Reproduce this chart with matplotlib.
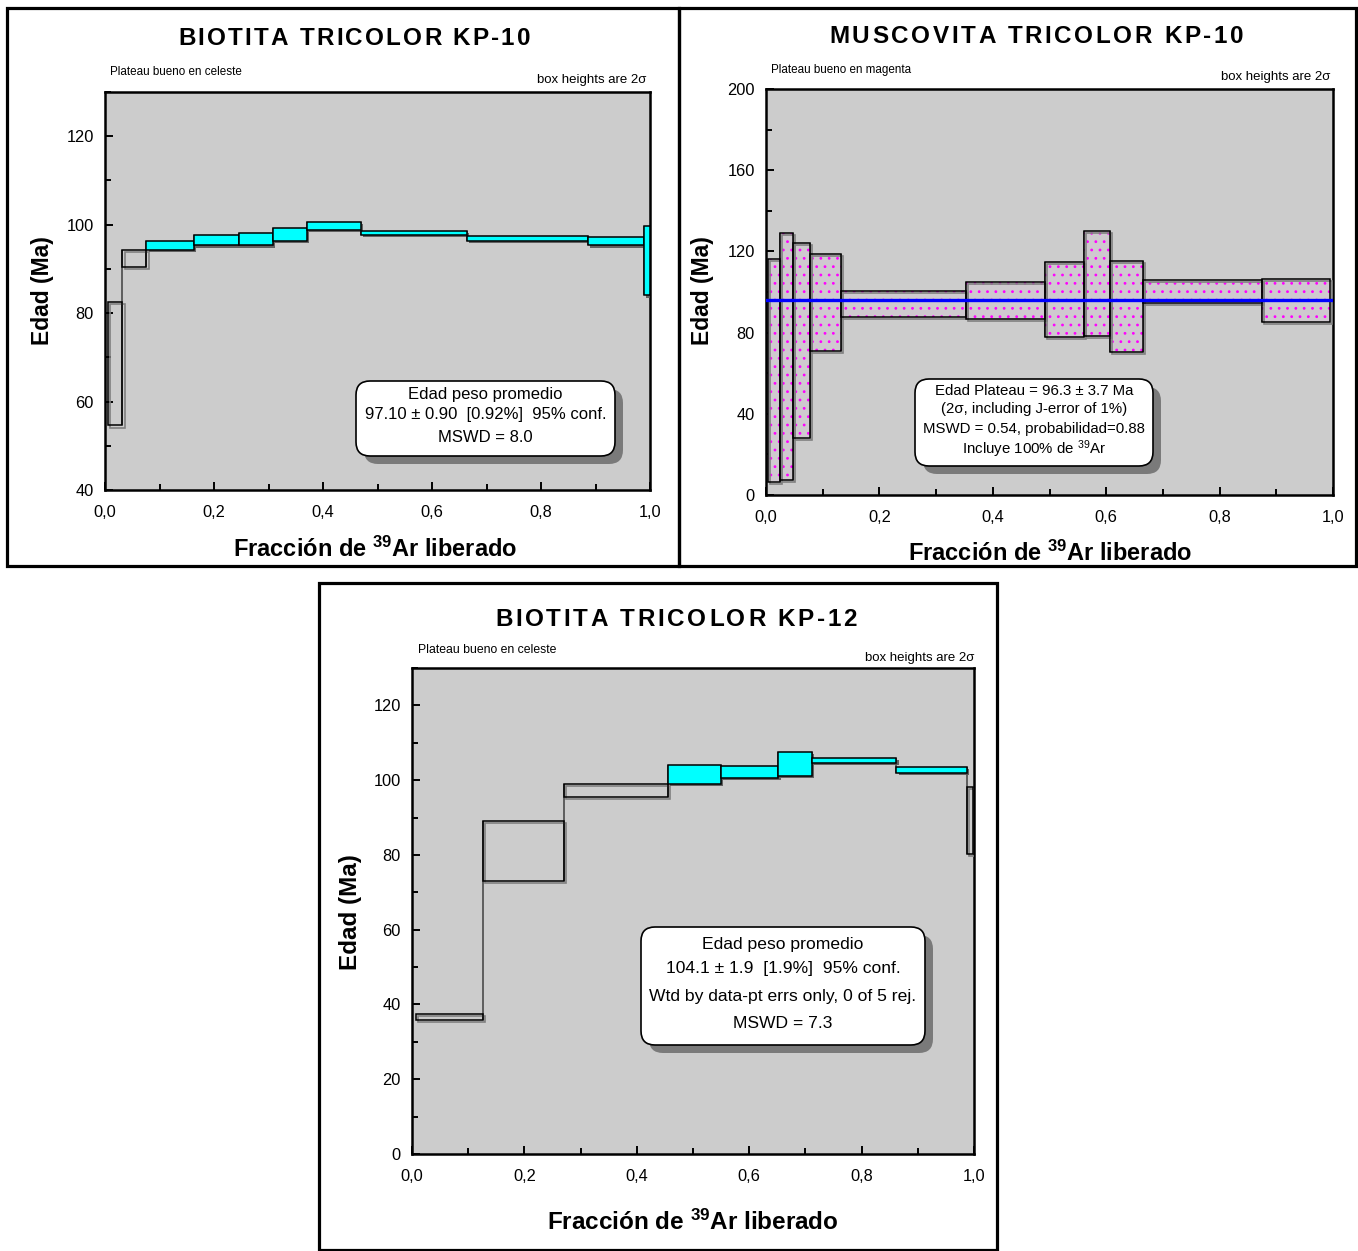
import matplotlib
matplotlib.use('Agg')
import matplotlib.pyplot as plt
from matplotlib.patches import Rectangle, FancyBboxPatch
from matplotlib.transforms import Affine2D, Bbox, TransformedBbox
import matplotlib.patheffects as pe
from matplotlib.ticker import FixedLocator, MultipleLocator

# ---------------- data ----------------
# Panel 1: BIOTITA TRICOLOR KP-10
p1_edges = [0.005, 0.032, 0.076, 0.163, 0.246, 0.309, 0.370, 0.469, 0.664, 0.887, 0.989, 1.0]
p1_age = [68.55, 92.35, 95.25, 96.45, 96.7, 97.85, 99.8, 98.05, 96.9, 96.2, 91.9]
p1_err = [13.95, 1.95, 0.95, 1.15, 1.4, 1.45, 0.9, 0.45, 0.5, 0.9, 7.9]
p1_plateau = [0, 0, 1, 1, 1, 1, 1, 1, 1, 1, 1]
p1_yticks = [40, 60, 80, 100, 120]

# Panel 2: MUSCOVITA TRICOLOR KP-10
p2_edges = [0.004, 0.025, 0.048, 0.077, 0.132, 0.352, 0.492, 0.560, 0.607, 0.665, 0.874, 0.995]
p2_age = [61.25, 68.3, 76.1, 94.75, 94.05, 96.0, 96.3, 104.2, 93.0, 100.35, 95.85]
p2_err = [55.05, 60.9, 48.2, 23.95, 6.55, 9.1, 18.6, 26.0, 22.4, 5.75, 10.75]
p2_plateau = [1, 1, 1, 1, 1, 1, 1, 1, 1, 1, 1]
p2_plateau_age = 96.3
p2_yticks = [0, 40, 80, 120, 160, 200]

# Panel 3: BIOTITA TRICOLOR KP-12
p3_edges = [0.007, 0.126, 0.271, 0.455, 0.549, 0.652, 0.712, 0.862, 0.988, 0.999]
p3_age = [36.7, 81.1, 97.2, 101.55, 102.15, 104.35, 105.3, 102.7, 89.25]
p3_err = [0.8, 8.0, 1.7, 2.45, 1.65, 3.25, 0.6, 0.8, 9.05]
p3_plateau = [0, 0, 0, 1, 1, 1, 1, 1, 0]
p3_yticks = [0, 20, 40, 60, 80, 100, 120]

xticks = [0.0, 0.2, 0.4, 0.6, 0.8, 1.0]
xticklabels = ['0,0', '0,2', '0,4', '0,6', '0,8', '1,0']

titles = ['BIOTITA TRICOLOR KP-10', 'MUSCOVITA TRICOLOR KP-10', 'BIOTITA TRICOLOR KP-12']
box1_lines = ['Edad peso promedio', '97.10 ± 0.90  [0.92%]  95% conf.', 'MSWD = 8.0']
box2_lines = ['Edad Plateau = 96.3 ± 3.7 Ma', '(2σ, including J-error of 1%)',
              'MSWD = 0.54, probabilidad=0.88', r'Incluye 100% de $^{\mathrm{39}}$Ar']
box3_lines = ['Edad peso promedio', '104.1 ± 1.9  [1.9%]  95% conf.',
              'Wtd by data-pt errs only, 0 of 5 rej.', 'MSWD = 7.3']

# ---------------- style ----------------
W, H = 1358, 1251
plt.rcParams['font.family'] = ['Liberation Sans', 'DejaVu Sans']
plt.rcParams['mathtext.fontset'] = 'custom'
plt.rcParams['mathtext.rm'] = 'Liberation Sans'
plt.rcParams['mathtext.bf'] = 'Liberation Sans:bold'
plt.rcParams['mathtext.it'] = 'Liberation Sans:italic'
plt.rcParams['hatch.linewidth'] = 0.8

fig = plt.figure(figsize=(W / 100, H / 100), dpi=100)
PX = Affine2D().scale(1 / W, -1 / H).translate(0, 1) + fig.transFigure

BG = '#cccccc'


def make_axes(l, t, r, b, ylim, yticks, yminor):
    ax = fig.add_axes([l / W, 1 - b / H, (r - l) / W, (b - t) / H])
    ax.set_facecolor(BG)
    ax.set_xlim(0, 1)
    ax.set_ylim(*ylim)
    ax.xaxis.set_major_locator(FixedLocator(xticks))
    ax.set_xticklabels(xticklabels)
    ax.xaxis.set_minor_locator(MultipleLocator(0.1))
    ax.yaxis.set_major_locator(FixedLocator(yticks))
    ax.yaxis.set_minor_locator(MultipleLocator(yminor))
    ax.tick_params(which='both', direction='in', width=1.4, labelsize=11.8)
    ax.tick_params(which='major', length=6)
    ax.tick_params(which='minor', length=4)
    ax.tick_params(axis='x', pad=11)
    ax.tick_params(axis='y', pad=8)
    for s in ax.spines.values():
        s.set_linewidth(1.8)
    return ax


def draw_spectrum(ax, edges, age, err, plateau, hatched=False):
    n = len(age)
    for i in range(n):
        x0, x1 = edges[i], edges[i + 1]
        lo, hi = age[i] - err[i], age[i] + err[i]
        if i < n - 1:
            lo2, hi2 = age[i + 1] - err[i + 1], age[i + 1] + err[i + 1]
            ax.plot([x1, x1], [min(lo, lo2), max(hi, hi2)], color='#555555',
                    lw=1.3, zorder=2, solid_capstyle='butt')
        if hatched and plateau[i]:
            ax.add_patch(Rectangle((x0, lo), x1 - x0, hi - lo, fc='#cfc9cf', ec='#ff00ff',
                                   lw=0, hatch='..', zorder=3))
            ax.add_patch(Rectangle((x0, lo), x1 - x0, hi - lo, fc='none', ec='black', lw=1.1,
                                   zorder=3.5,
                                   path_effects=[pe.Stroke(offset=(1.5, -1.5), foreground='#808080',
                                                           linewidth=1.2), pe.Normal()]))
        elif plateau[i]:
            ax.add_patch(Rectangle((x0, lo), x1 - x0, hi - lo, fc='#00ffff', ec='black', lw=1.1,
                                   zorder=3,
                                   path_effects=[pe.SimplePatchShadow(offset=(1.5, -1.5),
                                                                      shadow_rgbFace='#555555',
                                                                      alpha=0.9), pe.Normal()]))
        else:
            ax.add_patch(Rectangle((x0, lo), x1 - x0, hi - lo, fc='none', ec='black', lw=1.1,
                                   zorder=3,
                                   path_effects=[pe.Stroke(offset=(1.5, -1.5), foreground='#808080',
                                                           linewidth=1.2), pe.Normal()]))


def spaced_title(cx, base_y, s, size, target_w):
    r = fig.canvas.get_renderer()
    ws = []
    for ch in s:
        if ch == ' ':
            ws.append(0.278 * size * 100 / 72)
        else:
            t = fig.text(0, 0, ch, fontsize=size, fontweight='bold')
            ws.append(t.get_window_extent(renderer=r).width)
            t.remove()
    extra = (target_w - sum(ws)) / (len(s) - 1)
    x = cx - target_w / 2
    for ch, w in zip(s, ws):
        if ch != ' ':
            fig.text(x, base_y, ch, transform=PX, ha='left', va='baseline',
                     fontsize=size, fontweight='bold')
        x += w + extra


def text_box(x0, y0, x1, y1, lines, ys, size):
    w, h = x1 - x0, y1 - y0
    fig.add_artist(FancyBboxPatch((x0 + 8, y0 + 8), w, h, boxstyle='round,pad=0,rounding_size=14',
                                  transform=PX, fc='#7a7a7a', ec='none', zorder=5))
    fig.add_artist(FancyBboxPatch((x0, y0), w, h, boxstyle='round,pad=0,rounding_size=14',
                                  transform=PX, fc='white', ec='black', lw=1.2, zorder=6))
    cx = (x0 + x1) / 2
    for line, y in zip(lines, ys):
        fig.text(cx, y, line, transform=PX, ha='center', va='center', fontsize=size, zorder=7)


xlabel = r'Fracción de $^{\mathbf{39}}$Ar liberado'

# ---------------- panel frames ----------------
for (x, y, w, h) in [(7, 8, 672, 558), (679, 8, 677, 558), (319, 583, 678, 667)]:
    fig.add_artist(Rectangle((x, y), w, h, transform=PX, fc='none', ec='black', lw=2.3, zorder=10))

# ---------------- panel 1 ----------------
ax1 = make_axes(105, 92, 650, 490, (40, 130), p1_yticks, 10)
draw_spectrum(ax1, p1_edges, p1_age, p1_err, p1_plateau)
spaced_title(354, 45, titles[0], 17.5, 352)
fig.text(110, 72, 'Plateau bueno en celeste', transform=PX, ha='left', va='center', fontsize=8.4)
fig.text(646, 80, 'box heights are 2σ', transform=PX, ha='right', va='center', fontsize=9.5)
fig.text(42, 291, 'Edad (Ma)', transform=PX, ha='center', va='center', rotation=90,
         fontsize=16.5, fontweight='bold')
fig.text(375, 549, xlabel, transform=PX, ha='center', va='center', fontsize=17, fontweight='bold')
text_box(356, 381, 615, 456, box1_lines, [395, 414, 438], 12)

# ---------------- panel 2 ----------------
ax2 = make_axes(766, 89, 1333, 495, (0, 200), p2_yticks, 20)
draw_spectrum(ax2, p2_edges, p2_age, p2_err, p2_plateau, hatched=True)
ax2.axhline(p2_plateau_age, color='#0000ff', lw=2.4, zorder=4)
spaced_title(1036, 43, titles[1], 17.5, 414)
fig.text(771, 70, 'Plateau bueno en magenta', transform=PX, ha='left', va='center', fontsize=8.4)
fig.text(1330, 77, 'box heights are 2σ', transform=PX, ha='right', va='center', fontsize=9.5)
fig.text(702, 291, 'Edad (Ma)', transform=PX, ha='center', va='center', rotation=90,
         fontsize=16.5, fontweight='bold')
t2 = fig.text(1050, 553, xlabel, transform=PX, ha='center', va='center', fontsize=17,
              fontweight='bold')
t2.set_clip_box(TransformedBbox(Bbox.from_extents(679 / W, 1 - 566 / H, 1356 / W, 1 - 8 / H),
                                fig.transFigure))
t2.set_clip_on(True)
text_box(915, 379, 1153, 466, box2_lines, [391, 409, 429, 449], 10.8)

# ---------------- panel 3 ----------------
ax3 = make_axes(412, 668, 974, 1154, (0, 130), p3_yticks, 10)
draw_spectrum(ax3, p3_edges, p3_age, p3_err, p3_plateau)
spaced_title(676, 626, titles[2], 17.5, 362)
fig.text(418, 650, 'Plateau bueno en celeste', transform=PX, ha='left', va='center', fontsize=8.8)
fig.text(974, 658, 'box heights are 2σ', transform=PX, ha='right', va='center', fontsize=9.5)
fig.text(351, 912, 'Edad (Ma)', transform=PX, ha='center', va='center', rotation=90,
         fontsize=17.5, fontweight='bold')
fig.text(693, 1222, xlabel, transform=PX, ha='center', va='center', fontsize=17.5, fontweight='bold')
text_box(641, 927, 925, 1045, box3_lines, [944, 968, 996, 1023], 12.6)

fig.savefig('out.png', dpi=100)
